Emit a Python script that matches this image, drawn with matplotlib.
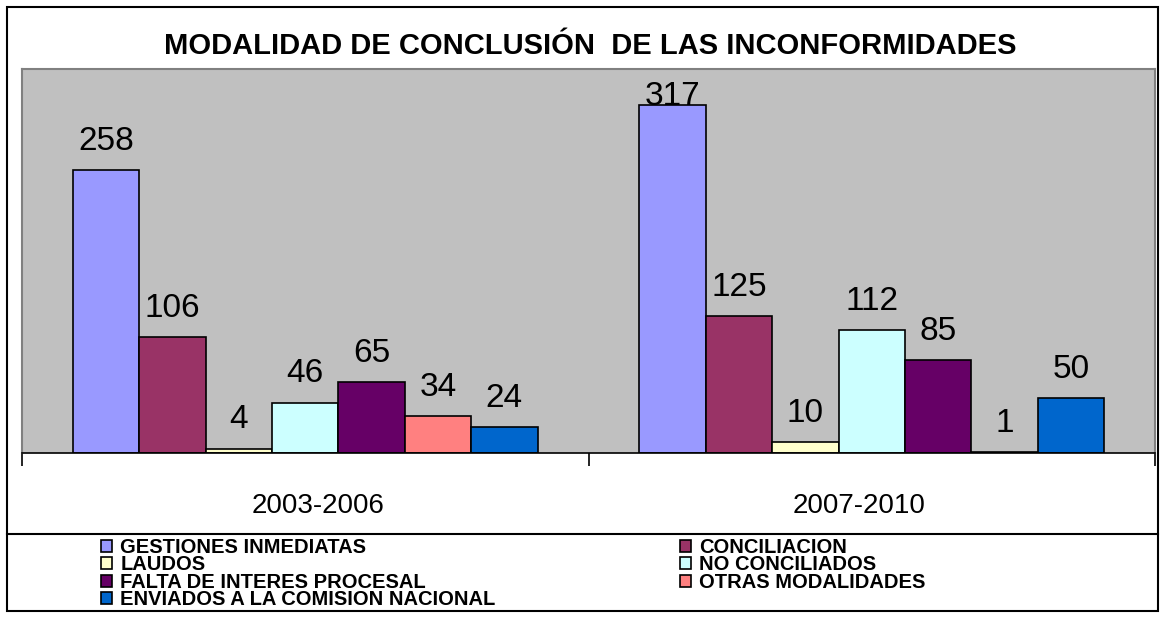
import matplotlib
matplotlib.use("Agg")
import matplotlib.pyplot as plt
import matplotlib.patches as mpatches
import numpy as np

plt.rcParams["font.family"] = ["Liberation Sans", "DejaVu Sans"]

# datos
periodos = ["2003-2006", "2007-2010"]
modalidades = [
    "GESTIONES INMEDIATAS",
    "CONCILIACION",
    "LAUDOS",
    "NO CONCILIADOS",
    "FALTA DE INTERES PROCESAL",
    "OTRAS MODALIDADES",
    "ENVIADOS A LA COMISION NACIONAL",
]
valores_2003_2006 = [258, 106, 4, 46, 65, 34, 24]
valores_2007_2010 = [317, 125, 10, 112, 85, 1, 50]
colores = ["#9999FF", "#993366", "#FFFFCC", "#CCFFFF", "#660066", "#FF8080", "#0066CC"]

W, H = 1160, 617
fig = plt.figure(figsize=(W / 100, H / 100), dpi=100)
ax = fig.add_axes([22 / W, 1 - 453 / H, (1155 - 22) / W, (453 - 69) / H])
ax.set_facecolor("#C0C0C0")
ymax = 350
ax.set_xlim(-0.5, 1.5)
ax.set_ylim(0, ymax)

x = np.arange(len(periodos))
n = len(modalidades)
ancho = 0.82 / n
bars = []
for i, (nombre, color) in enumerate(zip(modalidades, colores)):
    vals = [valores_2003_2006[i], valores_2007_2010[i]]
    pos = x - 0.41 + ancho * (i + 0.5)
    b = ax.bar(pos, vals, width=ancho, color=color, edgecolor="black",
               linewidth=1.2, label=nombre)
    bars.append(b)
    for p, v in zip(pos, vals):
        # si no cabe encima, la etiqueta se apoya sobre la barra (como Excel)
        off = 0 if v + 40 > ymax else 14.5
        ax.annotate(str(v), (p, v), xytext=(0, off), textcoords="offset points",
                    ha="center", va="baseline", fontsize=24)

ax.set_yticks([])
ax.set_xticks([-0.5, 0.5, 1.5])
ax.set_xticklabels([])
ax.tick_params(axis="x", which="major", direction="out", length=9, width=1.2, color="black")
# las etiquetas de Excel quedan un poco hacia el centro
ax.set_xticks(x + np.array([0.023, -0.023]), minor=True)
ax.set_xticklabels(periodos, minor=True, fontsize=20)
ax.tick_params(axis="x", which="minor", length=0, pad=29)
for s in ["left", "top", "right"]:
    ax.spines[s].set_color("#808080")
    ax.spines[s].set_linewidth(1.5)
ax.spines["bottom"].set_color("black")
ax.spines["bottom"].set_linewidth(1.2)

fig.text(590 / W, 1 - 46 / H, "MODALIDAD DE CONCLUSIÓN  DE LAS INCONFORMIDADES",
         ha="center", va="center", fontsize=21, fontweight="bold")

# marco exterior y caja de leyenda
fig.patches.append(mpatches.Rectangle((7 / W, 1 - 611 / H), (1158 - 7) / W, (611 - 7) / H,
                                      transform=fig.transFigure, fill=False,
                                      edgecolor="black", linewidth=1.5))
fig.add_artist(plt.Line2D([7 / W, 1158 / W], [1 - 534 / H, 1 - 534 / H],
                          transform=fig.transFigure, color="black", linewidth=1.5))

# orden por columnas para que se lea por filas
orden = [0, 2, 4, 6, 1, 3, 5]
leg = fig.legend([bars[i] for i in orden], [modalidades[i] for i in orden],
                 ncol=2, loc="upper left", bbox_to_anchor=(101 / W, 1 - 538 / H),
                 frameon=False, prop={"size": 14.5, "weight": "bold"},
                 handlelength=0.55, handleheight=0.55, handletextpad=0.4,
                 labelspacing=-0.08, columnspacing=9.15, borderaxespad=0, borderpad=0)

fig.savefig("out.png", dpi=100)
